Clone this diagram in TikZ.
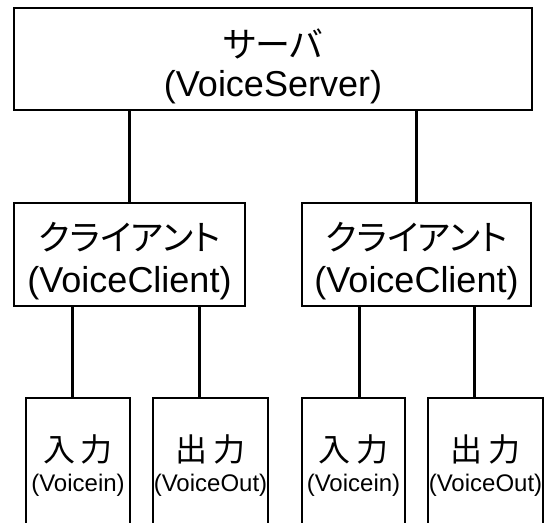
\documentclass[tikz,border=0pt]{standalone}
\usepackage{fontspec}
\setmainfont{Liberation Sans}
\newfontfamily\jafont[RawFeature=+palt]{Noto Sans CJK JP}
\tikzset{
  box/.style={shape=rectangle,draw=black,line width=2pt,inner sep=0pt},
  conn/.style={line width=3pt},
  bigja/.style={font=\jafont\fontsize{35}{40}\selectfont,anchor=base,inner sep=0pt},
  bigen/.style={font=\fontsize{36}{40}\selectfont,anchor=base,inner sep=0pt},
  smallja/.style={font=\jafont\fontsize{32}{36}\selectfont,anchor=base,inner sep=0pt},
  smallen/.style={font=\fontsize{24}{28}\selectfont,anchor=base,inner sep=0pt},
}
\begin{document}
\begin{tikzpicture}[x=1pt,y=-1pt]
\useasboundingbox (0,0) rectangle (545,522);
\clip (0,0) rectangle (545,522);
% server
\node (srv) at (273,59) [box,minimum width=518pt,minimum height=102pt] {};
\node (srvja) at (273,57) [bigja] {サーバ};
\node (srven) at (273,96) [bigen] {(VoiceServer)};
% clients
\node (cl1) at (129.5,254.5) [box,minimum width=231pt,minimum height=103pt] {};
\node (cl1ja) at (129.5,250) [bigja] {クライアント};
\node (cl1en) at (129.5,292) [bigen] {(VoiceClient)};
\node (cl2) at (416.5,254.5) [box,minimum width=229pt,minimum height=103pt] {};
\node (cl2ja) at (416.5,250) [bigja] {クライアント};
\node (cl2en) at (416.5,292) [bigen] {(VoiceClient)};
% input / output (open at the bottom)
\node (in1) at (78,479) [box,minimum width=104pt,minimum height=162pt] {};
\node (in1ja) at (78,461) [smallja] {入\hspace{6pt}力};
\node (in1en) at (78,491) [smallen] {(Voicein)};
\node (out1) at (210.5,479) [box,minimum width=115pt,minimum height=162pt] {};
\node (out1ja) at (210.5,461) [smallja] {出\hspace{6pt}力};
\node (out1en) at (210.5,491) [smallen] {(VoiceOut)};
\node (in2) at (353.5,479) [box,minimum width=103pt,minimum height=162pt] {};
\node (in2ja) at (353.5,461) [smallja] {入\hspace{6pt}力};
\node (in2en) at (353.5,491) [smallen] {(Voicein)};
\node (out2) at (485.5,479) [box,minimum width=115pt,minimum height=162pt] {};
\node (out2ja) at (485.5,461) [smallja] {出\hspace{6pt}力};
\node (out2en) at (485.5,491) [smallen] {(VoiceOut)};
% connectors
\coordinate (x1) at (72,0);
\coordinate (x2) at (199,0);
\coordinate (x3) at (359,0);
\coordinate (x4) at (474,0);
\draw[conn] (srv.south -| cl1) -- (cl1.north);
\draw[conn] (srv.south -| cl2) -- (cl2.north);
\draw[conn] (cl1.south -| x1) -- (in1.north -| x1);
\draw[conn] (cl1.south -| x2) -- (out1.north -| x2);
\draw[conn] (cl2.south -| x3) -- (in2.north -| x3);
\draw[conn] (cl2.south -| x4) -- (out2.north -| x4);
\end{tikzpicture}
\end{document}
